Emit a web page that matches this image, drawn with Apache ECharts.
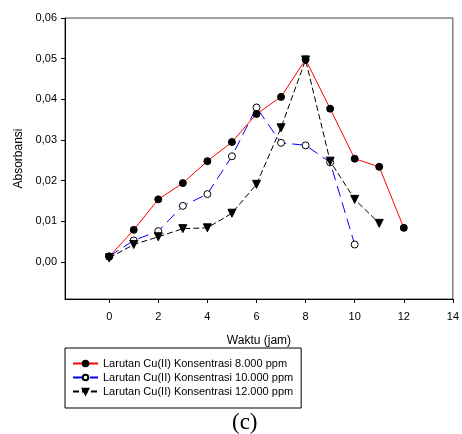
<!DOCTYPE html>
<html>
<head>
<meta charset="utf-8">
<script src="https://cdn.jsdelivr.net/npm/echarts@6/dist/echarts.min.js"></script>
<style>
html,body{margin:0;padding:0;background:#fff;}
#c{width:462px;height:434px;}
</style>
</head>
<body>
<div id="c"></div>
<script>
var waktu = [0, 1, 2, 3, 4, 5, 6, 7, 8, 9, 10, 11, 12];
var s8000 = [0.0013, 0.0079, 0.0154, 0.0194, 0.0248, 0.0295, 0.0364, 0.0406, 0.0498, 0.0377, 0.0254, 0.0234, 0.0084];
var s10000 = [0.0014, 0.0053, 0.0076, 0.0138, 0.0167, 0.0260, 0.0380, 0.0293, 0.0287, 0.0245, 0.0043];
var s12000 = [0.0010, 0.0043, 0.0062, 0.0082, 0.0084, 0.0120, 0.0191, 0.0330, 0.0497, 0.0248, 0.0154, 0.0095];
var xTicks = [0, 2, 4, 6, 8, 10, 12, 14];
var yTicks = [0, 0.01, 0.02, 0.03, 0.04, 0.05, 0.06];
var names = ['Larutan Cu(II) Konsentrasi 8.000 ppm', 'Larutan Cu(II) Konsentrasi 10.000 ppm', 'Larutan Cu(II) Konsentrasi 12.000 ppm'];

function pairs(v) { return v.map(function (y, i) { return [waktu[i], y]; }); }

var chart = echarts.init(document.getElementById('c'), null, {renderer: 'canvas'});
var font = 'Liberation Sans, Arial, sans-serif';
chart.setOption({
  animation: false,
  backgroundColor: '#fff',
  grid: {left: 65, right: 5, top: 18, bottom: 135, show: true, borderColor: '#444', borderWidth: 1, backgroundColor: 'transparent'},
  xAxis: {
    type: 'value', min: -1.8, max: 14,
    name: 'Waktu (jam)', nameLocation: 'middle', nameGap: 36,
    nameTextStyle: {fontFamily: font, fontSize: 12, color: '#000'},
    axisLine: {show: true, onZero: false, lineStyle: {color: '#000', width: 1}},
    axisTick: {show: true, inside: false, length: 4, customValues: xTicks, lineStyle: {color: '#000'}},
    axisLabel: {customValues: xTicks, margin: 12, fontFamily: font, fontSize: 11, color: '#000',
      formatter: function (v) { return String(v); }},
    splitLine: {show: false}
  },
  yAxis: {
    type: 'value', min: -0.0091, max: 0.06,
    name: 'Absorbansi', nameLocation: 'middle', nameGap: 40,
    nameTextStyle: {fontFamily: font, fontSize: 12, color: '#000'},
    axisLine: {show: true, onZero: false, lineStyle: {color: '#000', width: 1}},
    axisTick: {show: true, inside: false, length: 4, customValues: yTicks, lineStyle: {color: '#000'}},
    axisLabel: {customValues: yTicks, margin: 8, fontFamily: font, fontSize: 11, color: '#000',
      formatter: function (v) { return v.toFixed(2).replace('.', ','); }},
    splitLine: {show: false}
  },
  legend: {
    orient: 'vertical', left: 65, top: 348,
    itemWidth: 25, itemHeight: 7, itemGap: 3,
    padding: [10, 8, 11, 7],
    borderColor: '#000', borderWidth: 1, backgroundColor: '#fff',
    textStyle: {fontFamily: font, fontSize: 11, color: '#000'},
    data: names
  },
  series: [
    {name: names[0], type: 'line', data: pairs(s8000), symbol: 'circle', symbolSize: 7,
      lineStyle: {color: '#ff0000', width: 1, type: 'solid'},
      itemStyle: {color: '#000', borderColor: '#000', borderWidth: 1}, z: 3},
    {name: names[1], type: 'line', data: pairs(s10000), symbol: 'circle', symbolSize: 7,
      lineStyle: {color: '#0000ff', width: 1, type: [11, 6]},
      itemStyle: {color: '#fff', borderColor: '#000', borderWidth: 1}, z: 2},
    {name: names[2], type: 'line', data: pairs(s12000), symbol: 'triangle', symbolSize: 8, symbolRotate: 180,
      lineStyle: {color: '#000', width: 1, type: [6, 3]},
      itemStyle: {color: '#000', borderColor: '#000', borderWidth: 1}, z: 4}
  ],
  graphic: [{
    type: 'text', x: 232, y: 411,
    style: {text: '(c)', font: '23px "Liberation Serif", "Times New Roman", serif', fill: '#000'}
  }]
});
</script>
</body>
</html>
